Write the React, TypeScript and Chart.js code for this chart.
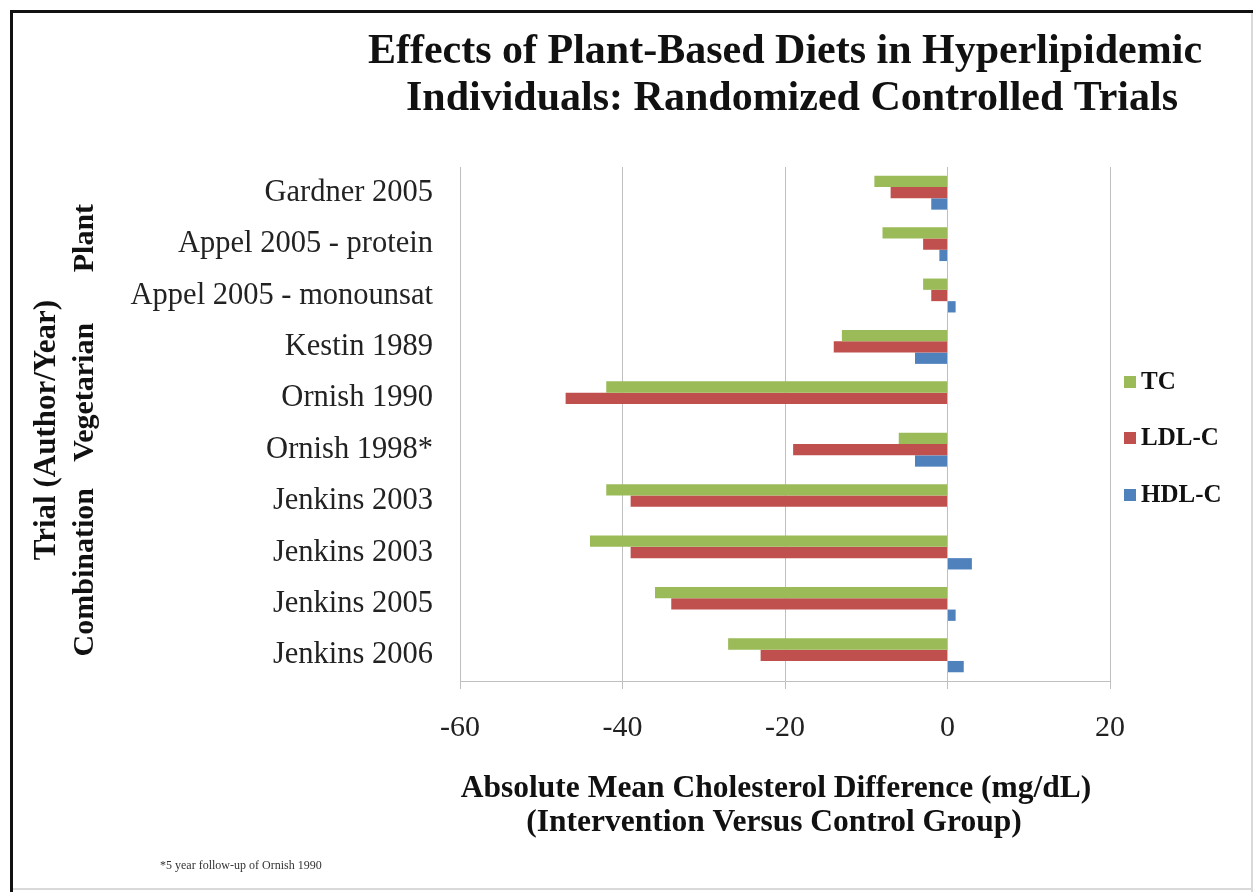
import React, { useEffect, useRef } from "react";
import { Chart, registerables } from "chart.js";

Chart.register(...registerables);

// Trials (author / year), top to bottom
const trials = [
  "Gardner 2005",
  "Appel 2005 - protein",
  "Appel 2005 - monounsat",
  "Kestin 1989",
  "Ornish 1990",
  "Ornish 1998*",
  "Jenkins 2003",
  "Jenkins 2003",
  "Jenkins 2005",
  "Jenkins 2006",
];

// Absolute mean difference vs control (mg/dL)
const tcValues = [-9, -8, -3, -13, -42, -6, -42, -44, -36, -27];
const ldlValues = [-7, -3, -2, -14, -47, -19, -39, -39, -34, -23];
const hdlValues = [-2, -1, 1, -4, 0, -4, 0, 3, 1, 2];

const xTicks = [-60, -40, -20, 0, 20];

const seriesNames = ["TC", "LDL-C", "HDL-C"];
const seriesColors = ["#9BBB59", "#C0504D", "#4F81BD"];

const titleLines = [
  "Effects of Plant-Based Diets in Hyperlipidemic",
  "Individuals: Randomized Controlled Trials",
];
const xTitleLines = [
  "Absolute Mean Cholesterol Difference (mg/dL)",
  "(Intervention Versus Control Group)",
];
const yTitle = "Trial (Author/Year)";
// Diet groups with the first and last trial row each one spans
const dietGroups = ["Plant", "Vegetarian", "Combination"];
const dietGroupRows = [
  [0, 2],
  [3, 5],
  [6, 9],
];
const footnote = "*5 year follow-up of Ornish 1990";

const SERIF = "'Liberation Serif', 'Times New Roman', serif";

const decorations = {
  id: "decorations",
  afterDraw(chart: any) {
    const ctx = chart.ctx as CanvasRenderingContext2D;
    const W = chart.width;
    const H = chart.height;
    ctx.save();

    // frame
    ctx.fillStyle = "#d9d9d9";
    ctx.fillRect(10, H - 4, W - 10, 2);
    ctx.fillRect(W - 2, 10, 2, H - 10);
    ctx.fillStyle = "#111";
    ctx.fillRect(10, 10, W - 10, 3);
    ctx.fillRect(10, 10, 3, H - 10);

    // chart title
    ctx.fillStyle = "#111";
    ctx.textAlign = "center";
    ctx.textBaseline = "alphabetic";
    ctx.font = `bold 42px ${SERIF}`;
    ctx.fillText(titleLines[0], 785, 63);
    ctx.fillText(titleLines[1], 792, 110);

    // x-axis title
    ctx.font = `bold 31.5px ${SERIF}`;
    ctx.fillText(xTitleLines[0], 776, 797);
    ctx.fillText(xTitleLines[1], 774, 831);

    // y-axis titles (rotated)
    const yScale = chart.scales.y;
    ctx.save();
    ctx.translate(47, 430);
    ctx.rotate(-Math.PI / 2);
    ctx.font = `bold 31px ${SERIF}`;
    ctx.textBaseline = "middle";
    ctx.fillText(yTitle, 0, 0);
    ctx.restore();

    ctx.font = `bold 30px ${SERIF}`;
    dietGroups.forEach((name, i) => {
      const [a, b] = dietGroupRows[i];
      const cy =
        (yScale.getPixelForValue(a) + yScale.getPixelForValue(b)) / 2 - 6;
      ctx.save();
      ctx.translate(85, cy);
      ctx.rotate(-Math.PI / 2);
      ctx.textBaseline = "middle";
      ctx.textAlign = "center";
      ctx.fillText(name, 0, 0);
      ctx.restore();
    });

    // legend
    const legendY = [382, 438, 495];
    ctx.textAlign = "left";
    ctx.textBaseline = "middle";
    ctx.font = `bold 25px ${SERIF}`;
    seriesNames.forEach((name, i) => {
      ctx.fillStyle = seriesColors[i];
      ctx.fillRect(1124, legendY[i] - 6, 12, 12);
      ctx.fillStyle = "#111";
      ctx.fillText(name, 1141, legendY[i] + 1);
    });

    // footnote
    ctx.font = `12px ${SERIF}`;
    ctx.fillStyle = "#333";
    ctx.textBaseline = "alphabetic";
    ctx.fillText(footnote, 160, 869);

    ctx.restore();
  },
};

export default function App() {
  const canvasRef = useRef<HTMLCanvasElement | null>(null);

  useEffect(() => {
    document.body.style.margin = "0";
    const canvas = canvasRef.current;
    if (!canvas) return;

    const chart = new Chart(canvas, {
      type: "bar",
      data: {
        labels: trials,
        datasets: [tcValues, ldlValues, hdlValues].map((values, i) => ({
          label: seriesNames[i],
          data: values,
          backgroundColor: seriesColors[i],
          borderWidth: 0,
          barPercentage: 1,
          categoryPercentage: 0.66,
        })),
      },
      options: {
        indexAxis: "y",
        responsive: false,
        animation: false,
        devicePixelRatio: 1,
        layout: { padding: { top: 167, right: 143, bottom: 0, left: 0 } },
        plugins: {
          legend: { display: false },
          title: { display: false },
          tooltip: { enabled: false },
        },
        scales: {
          x: {
            type: "linear",
            min: -60,
            max: 20,
            afterBuildTicks: (scale: any) => {
              scale.ticks = xTicks.map((v) => ({ value: v }));
            },
            afterFit: (scale: any) => {
              scale.height = 211;
            },
            grid: {
              color: "#bfbfbf",
              lineWidth: 1,
              drawTicks: true,
              tickLength: 8,
              tickColor: "#bfbfbf",
            },
            border: { display: true, color: "#bfbfbf", width: 1 },
            ticks: {
              padding: 21,
              color: "#222",
              font: { family: SERIF, size: 30 },
              maxRotation: 0,
            },
          },
          y: {
            type: "category",
            afterFit: (scale: any) => {
              scale.width = 460;
            },
            grid: { display: false, drawTicks: false },
            border: { display: false },
            ticks: {
              padding: 27,
              color: "#222",
              font: { family: SERIF, size: 30.5 },
              autoSkip: false,
            },
          },
        },
      },
      plugins: [decorations],
    });

    return () => chart.destroy();
  }, []);

  return (
    <div style={{ width: 1253, height: 892, background: "#fff" }}>
      <canvas ref={canvasRef} width={1253} height={892} />
    </div>
  );
}
